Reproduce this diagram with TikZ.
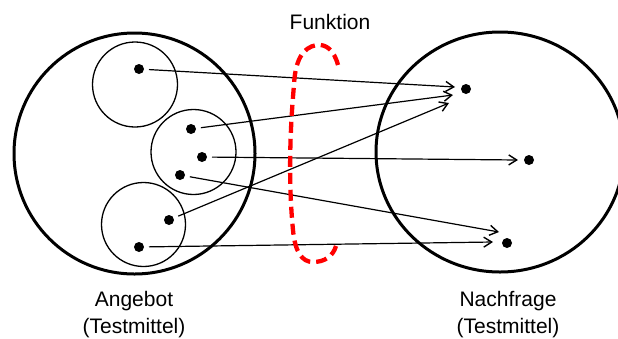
\documentclass[tikz,border=0pt]{standalone}
\usepackage{fontspec}
\setmainfont{Liberation Sans}
\usetikzlibrary{arrows.meta}
\begin{document}
\begin{tikzpicture}[x=1pt,y=-1pt,
  setring/.style={draw,line width=3pt},
  subset/.style={draw,line width=1.3pt},
  elem/.style={circle,fill,inner sep=0pt,outer sep=0pt,minimum size=10pt},
  maparrow/.style={line width=1.2pt,-{Straight Barb[length=8pt,width=10pt,line width=1.4pt]},shorten <=5pt},
  lbl/.style={font=\fontsize{21}{27.5}\selectfont,align=center,inner sep=0pt},
  fnborder/.style={draw=red,line width=4.3pt,dash pattern=on 11pt off 6pt}]
\useasboundingbox (0,0) rectangle (618,338);

% domain set with three subsets
\draw[setring] (134.5,153.5) circle[radius=120.5pt];
\draw[subset] (135,84.5) circle[radius=42.5pt];
\draw[subset] (193.5,152) circle[radius=42.5pt];
\draw[subset] (143.5,224.5) circle[radius=42pt];

% codomain set
\draw[setring] (500,152) ellipse[x radius=124pt,y radius=120pt];

% elements of the domain
\node[elem] (d1) at (139,69) {};
\node[elem] (d2) at (191,129) {};
\node[elem] (d3) at (202,157) {};
\node[elem] (d4) at (180,175) {};
\node[elem] (d5) at (169,220) {};
\node[elem] (d6) at (139,247) {};

% elements of the codomain
\node[elem] (r1) at (466,89) {};
\node[elem] (r2) at (529,160) {};
\node[elem] (r3) at (507,243) {};

% arrow tips next to the target elements
\coordinate (t1) at (455,87);
\coordinate (t2) at (453,95);
\coordinate (t3) at (449,103);
\coordinate (t4) at (518,160);
\coordinate (t5) at (499,232);
\coordinate (t6) at (493,242);

\draw[maparrow] (d1) -- (t1);
\draw[maparrow] (d2) -- (t2);
\draw[maparrow] (d5) -- (t3);
\draw[maparrow] (d3) -- (t4);
\draw[maparrow] (d4) -- (t5);
\draw[maparrow] (d6) -- (t6);

% dashed outline marking the function
\draw[fnborder] (338,65) .. controls (334,50) and (326,44) .. (317,45)
  .. controls (302,47) and (295,62) .. (294,85)
  .. controls (289,140) and (289,190) .. (293,230)
  .. controls (295,252) and (302,262) .. (313,262)
  .. controls (325,262) and (333,256) .. (336,246);

% labels
\node[lbl] (fn) at (330,22) {Funktion};
\node[lbl] (dom) at (134,314.5) {Angebot\\(Testmittel)};
\node[lbl] (cod) at (508,314.5) {Nachfrage\\(Testmittel)};
\end{tikzpicture}
\end{document}
